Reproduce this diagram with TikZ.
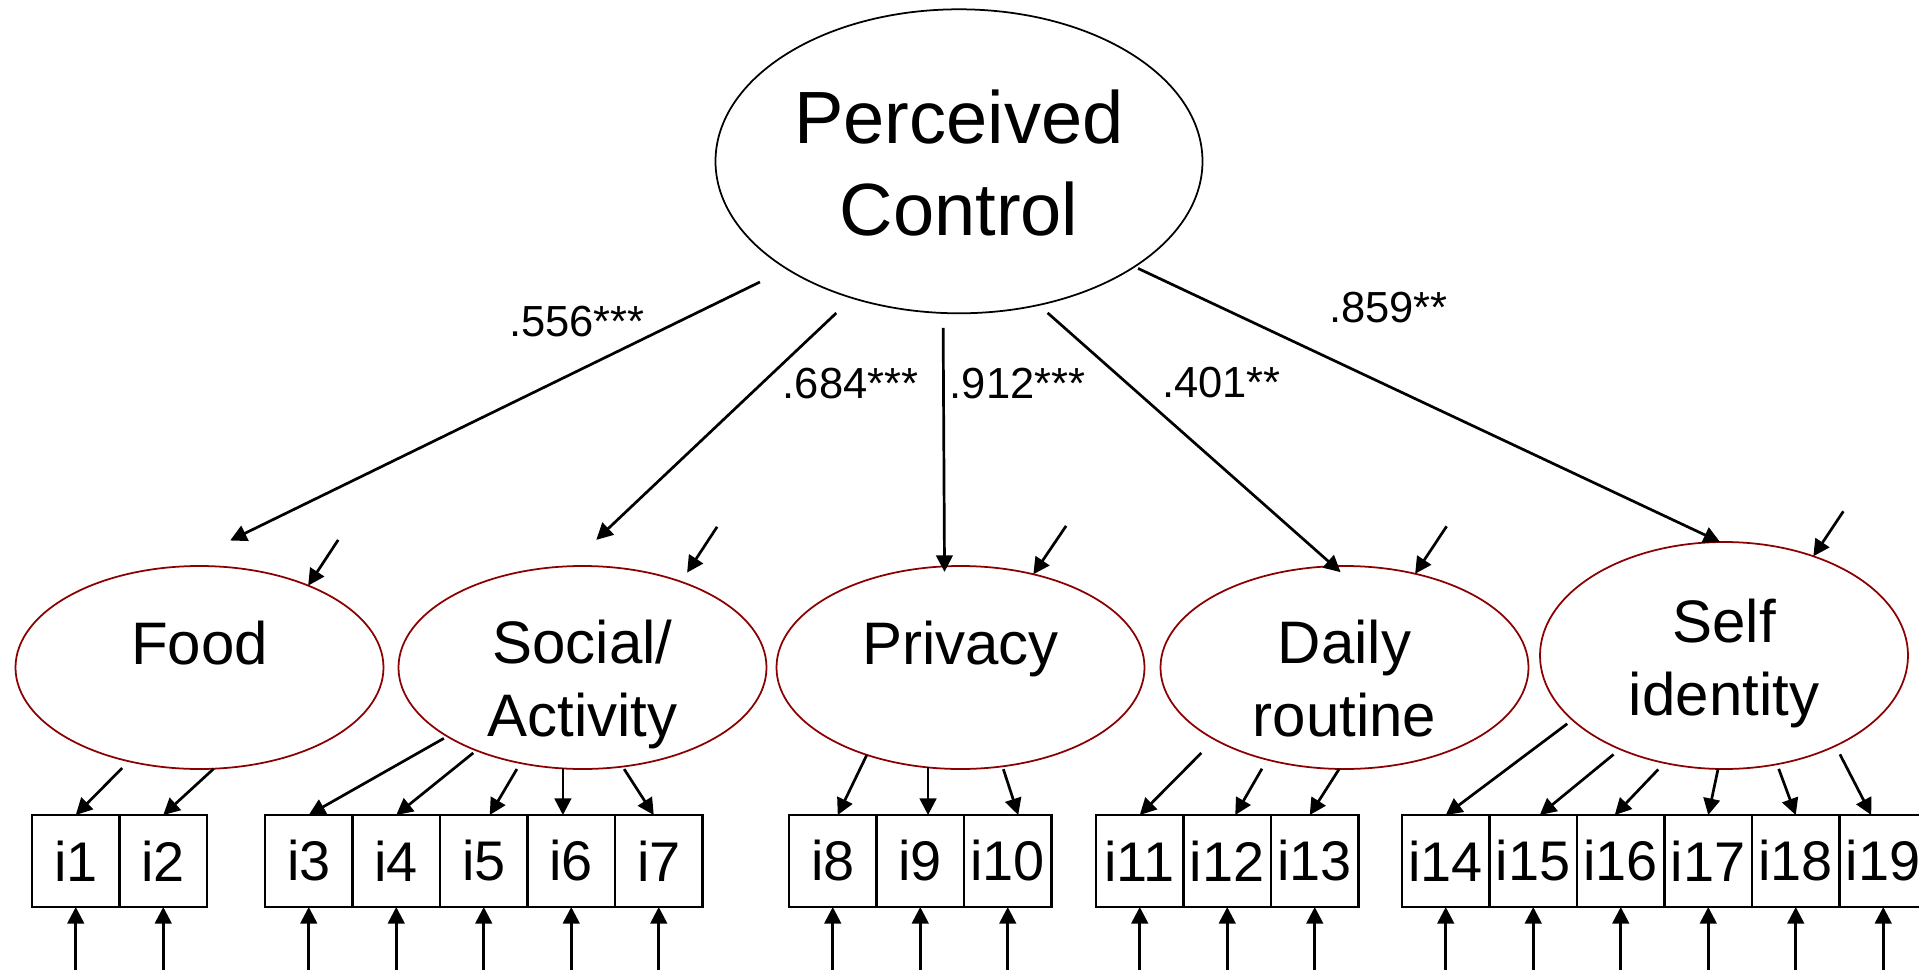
\documentclass[tikz,border=0pt]{standalone}
\usepackage{fontspec}
\setmainfont{Liberation Sans}
\usetikzlibrary{arrows.meta, positioning, calc, shapes.geometric}
\definecolor{latred}{HTML}{8B0000}

\begin{document}
\begin{tikzpicture}[
  >={Triangle[length=4.7pt, width=4.7pt]},
  line width=0.77pt,
  latent/.style={ellipse, draw=latred, line width=0.5pt, minimum width=3.68cm,
                 minimum height=2.03cm, inner sep=0pt, outer sep=0pt, align=center,
                 font=\fontsize{17.07pt}{20.5pt}\selectfont,
                 text height=1.39cm, text depth=0.02cm},
  oneline/.style={text height=0.5cm, text depth=0.57cm},
  indbox/.style={draw, line width=0.63pt, minimum width=0.875cm, minimum height=0.92cm,
                 inner sep=0pt, outer sep=0pt, font=\fontsize{15.9pt}{19pt}\selectfont},
  loading/.style={anchor=base, inner sep=0pt, font=\fontsize{12.38pt}{14pt}\selectfont},
]

\useasboundingbox (0,0) rectangle (19.19,-9.70);

% === Second-order factor ===
\node[ellipse, draw, line width=0.5pt, minimum width=4.87cm, minimum height=3.04cm,
      inner sep=0pt, outer sep=0pt, align=center,
      font=\fontsize{21.07pt}{26.1pt}\selectfont,
      text height=1.79cm, text depth=0.316cm] (pc) at (9.59,-1.613)
  {Perceived\\Control};

% === First-order factors ===
\node[latent, oneline] (food)    at (1.995,-6.675)  {Food};
\node[latent]          (social)  at (5.825,-6.675)  {Social/\\Activity};
\node[latent, oneline] (privacy) at (9.605,-6.675)  {Privacy};
\node[latent]          (daily)   at (13.445,-6.675) {Daily\\routine};
\node[latent, minimum height=2.27cm, text depth=0.20cm] (self) at (17.24,-6.555)
  {Self\\identity};

% Loadings on perceived control
\draw[->, shorten <=0.30cm, shorten >=0.60cm] (pc.212.6) -- (food.103.1);
\draw[->, shorten <=0.22cm, shorten >=0.385cm] (pc.232.3) -- (social.98.8);
\draw[->, shorten <=0.15cm, shorten >=-0.055cm] (pc.264.2) -- (privacy.99.6);
\draw[->, shorten <=0.12cm, shorten >=-0.09cm] (pc.299.6) -- (daily.96.8);
\draw[->, shorten <=0.04cm] (pc.329.8) -- (self.92.7);

\node[loading] (l-food)    at (5.77,-3.36)   {.556***};
\node[loading] (l-social)  at (8.505,-3.98)  {.684***};
\node[loading] (l-privacy) at (10.175,-3.98) {.912***};
\node[loading] (l-daily)   at (12.215,-3.97) {.401**};
\node[loading] (l-self)    at (13.885,-3.22) {.859**};

% Disturbances of the first-order factors
\draw[<-] (food.37.4) -- ++(0.30,0.457);
\draw[<-, shorten <=0.11cm] (social.41.5) -- ++(0.36,0.55);
\draw[<-] (privacy.52) -- ++(0.328,0.484);
\draw[<-] (daily.53.4) -- ++(0.315,0.475);
\draw[<-] (self.48.9) -- ++(0.30,0.45);

% === Items ===
\node[indbox] (i1) at (0.7575,-8.61) {i1};
\node[indbox, right=0pt of i1] (i2) {i2};

\node[indbox] (i3) at (3.0875,-8.61) {i3};
\node[indbox, right=0pt of i3] (i4) {i4};
\node[indbox, right=0pt of i4] (i5) {i5};
\node[indbox, right=0pt of i5] (i6) {i6};
\node[indbox, right=0pt of i6] (i7) {i7};

\node[indbox] (i8) at (8.3275,-8.61) {i8};
\node[indbox, right=0pt of i8] (i9) {i9};
\node[indbox, right=0pt of i9] (i10) {i10};

\node[indbox] (i11) at (11.3975,-8.61) {i11};
\node[indbox, right=0pt of i11] (i12) {i12};
\node[indbox, right=0pt of i12] (i13) {i13};

\node[indbox] (i14) at (14.4575,-8.61) {i14};
\node[indbox, right=0pt of i14] (i15) {i15};
\node[indbox, right=0pt of i15] (i16) {i16};
\node[indbox, right=0pt of i16] (i17) {i17};
\node[indbox, right=0pt of i17] (i18) {i18};
\node[indbox, right=0pt of i18] (i19) {i19};

% Factor -> item arrows
\draw[->, shorten <=0.096cm] (food.233.8) -- (i1.north);
\draw[->] (food.278.7) -- (i2.north);

\draw[->, shorten <=0.04cm] (social.207.1) -- (i3.north);
\draw[->, shorten <=0.04cm] (social.218.1) -- (i4.north);
\draw[->, shorten <=0.07cm] (social.237.8) -- ($(i5.north)+(0.06,0)$);
\draw[->] (social.259.2) -- (social.259.2 |- i6.north);
\draw[->, shorten <=0.03cm] (social.292.1) -- ($(i7.north)+(-0.05,0)$);

\draw[->] (privacy.223.4) -- ($(i8.north)+(0.05,0)$);
\draw[->] (privacy.252.7) -- (privacy.252.7 |- i9.north);
\draw[->, shorten <=0.03cm] (privacy.293.5) -- ($(i10.north)+(0.105,0)$);

\draw[->, shorten <=0.19cm] (daily.209.6) -- (i11.north);
\draw[->, shorten <=0.105cm] (daily.230.7) -- ($(i12.north)+(0.08,0)$);
\draw[->] (daily.267.1) -- ($(i13.north)+(-0.05,0)$);

\draw[->, shorten <=0.065cm] (self.203.2) -- (i14.north);
\draw[->, shorten <=0.083cm] (self.222.1) -- ($(i15.north)+(0.065,0)$);
\draw[->, shorten <=0.09cm] (self.241.1) -- ($(i16.north)+(-0.06,0)$);
\draw[->] (self.267.8) -- (i17.north);
\draw[->, shorten <=0.05cm] (self.296) -- (i18.north);
\draw[->, shorten <=0.096cm] (self.321.1) -- ($(i19.north)+(-0.12,0)$);

% Item errors
\draw[<-] (i1.south) -- ++(0,-0.7);
\draw[<-] (i2.south) -- ++(0,-0.7);
\draw[<-] (i3.south) -- ++(0,-0.7);
\draw[<-] (i4.south) -- ++(0,-0.7);
\draw[<-] (i5.south) -- ++(0,-0.7);
\draw[<-] (i6.south) -- ++(0,-0.7);
\draw[<-] (i7.south) -- ++(0,-0.7);
\draw[<-] (i8.south) -- ++(0,-0.7);
\draw[<-] (i9.south) -- ++(0,-0.7);
\draw[<-] (i10.south) -- ++(0,-0.7);
\draw[<-] (i11.south) -- ++(0,-0.7);
\draw[<-] (i12.south) -- ++(0,-0.7);
\draw[<-] (i13.south) -- ++(0,-0.7);
\draw[<-] (i14.south) -- ++(0,-0.7);
\draw[<-] (i15.south) -- ++(0,-0.7);
\draw[<-] (i16.south) -- ++(0,-0.7);
\draw[<-] (i17.south) -- ++(0,-0.7);
\draw[<-] (i18.south) -- ++(0,-0.7);
\draw[<-] (i19.south) -- ++(0,-0.7);

\end{tikzpicture}
\end{document}
